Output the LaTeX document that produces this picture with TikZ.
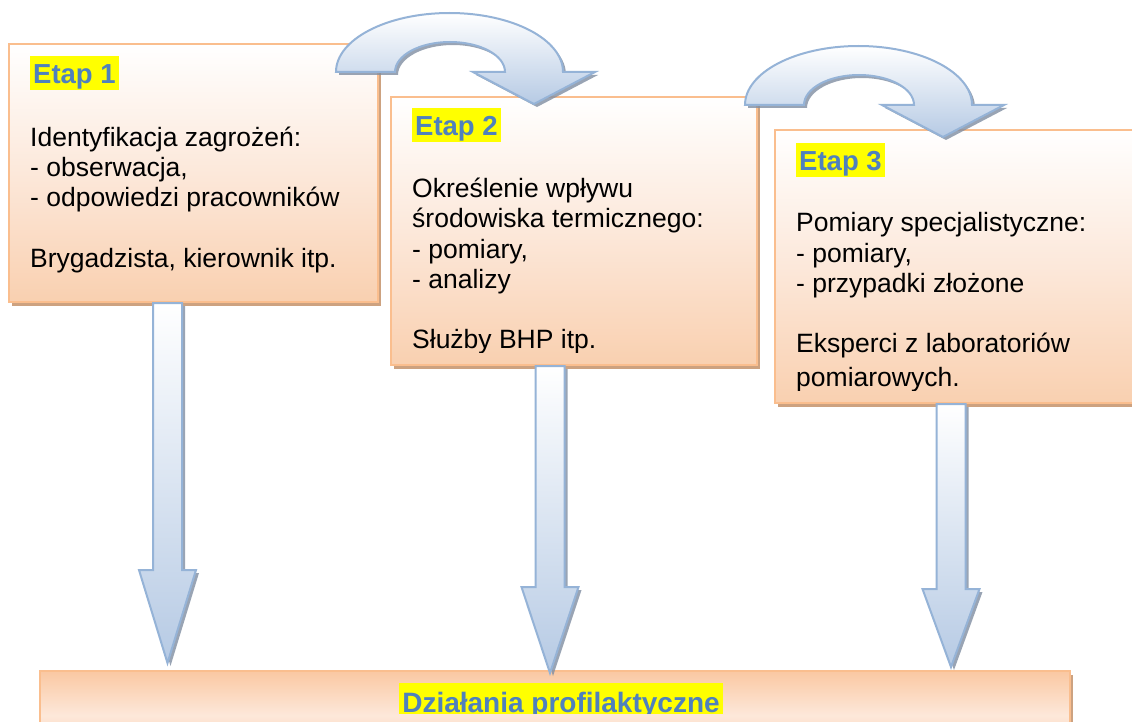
\documentclass[tikz,border=0pt]{standalone}
\usepackage{fontspec}
\setmainfont{Liberation Sans}
\usetikzlibrary{shadows,calc}
\definecolor{boxBorder}{RGB}{250,190,142}
\definecolor{boxBottom}{RGB}{249,208,176}
\definecolor{boxMid}{RGB}{252,232,218}
\definecolor{boxShadow}{RGB}{205,162,128}
\definecolor{arrowLine}{RGB}{149,179,215}
\definecolor{arrowBottom}{RGB}{182,202,228}
\definecolor{arrowShadow}{RGB}{128,142,162}
\definecolor{etapBlue}{RGB}{79,129,189}
\definecolor{hiYellow}{RGB}{255,255,0}
\definecolor{barDark}{RGB}{250,200,162}
\definecolor{barLight}{RGB}{253,232,218}
\newcommand\bodyfont{\fontsize{26.5}{30}\selectfont}
\newcommand\etapfont{\fontsize{27.5}{32}\selectfont\bfseries}
\newcommand\barfont{\fontsize{28}{32}\selectfont\bfseries}
\begin{document}
\begin{tikzpicture}[x=1pt,y=1pt,
  stagebox/.style={draw=boxBorder, line width=2.5pt, top color=white, bottom color=boxBottom, middle color=boxMid,
    drop shadow={shadow xshift=3pt, shadow yshift=-4pt, fill=boxShadow, opacity=1}},
  barbox/.style={draw=boxBorder, line width=2pt, top color=barDark, bottom color=barDark, middle color=barLight,
    drop shadow={shadow xshift=3pt, shadow yshift=-4pt, fill=boxShadow, opacity=1}},
  blockarrow/.style={draw=arrowLine, line width=2pt, line join=miter, top color=white, bottom color=arrowBottom,
    drop shadow={shadow xshift=3pt, shadow yshift=-3pt, fill=arrowShadow, opacity=0.8}},
  etap/.style={font=\etapfont, text=etapBlue, fill=hiYellow, anchor=base west, inner xsep=3pt, inner ysep=0pt,
    text height=28pt, text depth=6pt},
  line/.style={font=\bodyfont, anchor=base west, inner sep=0pt},
]
\useasboundingbox (0,0) rectangle (1132,-722);
\clip (0,0) rectangle (1132,-722);
\fill[white] (0,0) rectangle (1132,-722);

% boxes
\path[stagebox] (9,-44) rectangle (378,-302);
\path[stagebox] (391,-97) rectangle (757,-365);
\path[stagebox] (775,-130) rectangle (1150,-403);
\path[barbox] (40,-671) rectangle (1070,-760);

% box texts
\node[etap] (e1) at (30,-84) {Etap 1};
\node[line] (t11) at (30,-147) {Identyfikacja zagrożeń:};
\node[line] (t12) at (30,-177) {- obserwacja,};
\node[line] (t13) at (30,-207) {- odpowiedzi pracowników};
\node[line] (t14) at (30,-267) {Brygadzista, kierownik itp.};

\begin{scope}
\clip (391,-97) rectangle (757,-352.5);
\node[etap] (e2) at (412,-136) {Etap 2};
\node[line] (t21) at (412,-198) {Określenie wpływu};
\node[line] (t22) at (412,-228) {środowiska termicznego:};
\node[line] (t23) at (412,-258) {- pomiary,};
\node[line] (t24) at (412,-288) {- analizy};
\node[line] (t25) at (412,-348) {Służby BHP itp.};
\end{scope}

\begin{scope}
\clip (775,-130) rectangle (1150,-390);
\node[etap] (e3) at (796,-171) {Etap 3};
\node[line] (t31) at (796,-232) {Pomiary specjalistyczne:};
\node[line] (t32) at (796,-262) {- pomiary,};
\node[line] (t33) at (796,-292) {- przypadki złożone};
\node[line] (t34) at (796,-352) {Eksperci z laboratoriów};
\node[line] (t35) at (796,-386) {pomiarowych.};
\end{scope}

\begin{scope}
\clip (0,0) rectangle (1132,-713.5);
\node[font=\barfont, text=etapBlue, fill=hiYellow, anchor=base, inner xsep=3pt, inner ysep=0pt,
  text height=29pt, text depth=2pt] (bar) at (561,-712) {Działania profilaktyczne};
\end{scope}

% vertical arrows
\coordinate (a1s) at (167.5,-303); \coordinate (a1e) at (167.5,-663);
\coordinate (a2s) at (550,-366);   \coordinate (a2e) at (550,-673);
\coordinate (a3s) at (951,-404);   \coordinate (a3e) at (951,-667);
\newcommand\vblock[3]{%
  \path[blockarrow] let \p1=(#1), \p2=(#2) in
    (\x1-14.5pt,\y1) -- (\x1+14.5pt,\y1) -- (\x1+14.5pt,\y2+#3) -- (\x1+28.5pt,\y2+#3)
    -- (\x1,\y2) -- (\x1-28.5pt,\y2+#3) -- (\x1-14.5pt,\y2+#3) -- cycle;}
\vblock{a1s}{a1e}{93pt}
\vblock{a2s}{a2e}{86pt}
\vblock{a3s}{a3e}{78pt}

% curved arrows
\newcommand\curvedarrow[1]{%
  \path[blockarrow] (#1)
    arc[start angle=180, end angle=0, x radius=113.5, y radius=59]
    -- ++(32,0) -- ++(-61,-32) -- ++(-61,32) -- ++(32,0)
    arc[start angle=0, end angle=180, x radius=55, y radius=30]
    -- cycle;}
\coordinate (c1) at (336,-72);
\coordinate (c2) at (745,-105);
\curvedarrow{c1}
\curvedarrow{c2}
\end{tikzpicture}
\end{document}
